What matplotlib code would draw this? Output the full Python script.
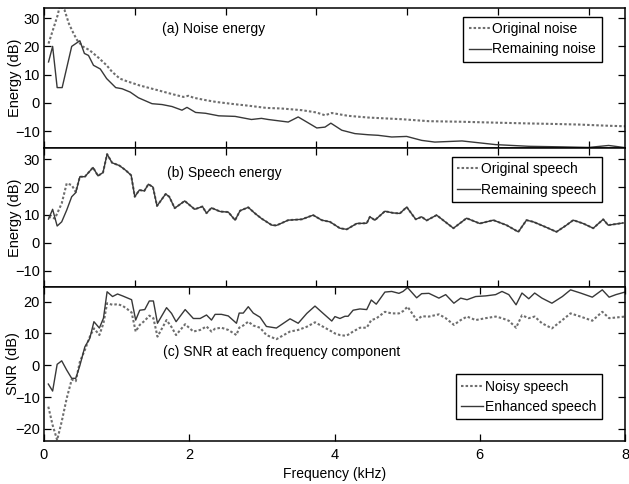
import numpy as np
import matplotlib
matplotlib.use("Agg")
import matplotlib.pyplot as plt

plt.rcParams['font.family'] = ['Liberation Sans', 'DejaVu Sans']
FS = 10
TICK_FS = 10.5

# (a) noise energy, x = FFT bin (0..128), y = dB
orig_noise_bins = [1, 2, 3, 3.5, 4.5, 5.5, 6.5, 7.3, 8.5, 10, 12, 13.8, 15, 16.7, 18, 21, 25, 28,
                   30.7, 31.8, 33, 35.8, 38, 42.1, 45, 49, 52.3, 56.8, 60, 61.9, 63.4, 67, 71.4,
                   75, 78.8, 84.8, 92, 99, 106.8, 113, 118, 124, 128]
orig_noise = [21, 26, 31, 34.5, 33, 28, 24.6, 22.2, 20, 18.7, 16, 13.3, 11, 8.6, 7.8, 6.2, 4.5, 3.2,
              2.1, 2.5, 1.8, 0.9, 0.3, -0.5, -1.0, -1.8, -2.0, -2.6, -3.4, -4.4, -3.6, -4.6, -5.2,
              -5.5, -5.8, -6.5, -6.7, -7.0, -7.3, -7.5, -7.7, -8.1, -8.3]

rem_noise_bins = [1, 1.9, 2.9, 4.0, 6.1, 7.9, 8.9, 9.8, 10.9, 12.4, 13.8, 15.8, 17.2, 19, 20.8,
                  23.8, 26, 28.2, 30.4, 31.5, 33.4, 35.6, 38.5, 42.1, 45.7, 47.9, 49.4, 53.8, 56,
                  57.9, 60.1, 61.9, 63.2, 65.6, 68.5, 71.4, 73.6, 76.6, 79.9, 83.2, 86.1, 92.1,
                  99.5, 106.8, 114.2, 120, 124.4, 127.7]
rem_noise = [14.5, 20, 5.4, 5.4, 20, 22, 17.5, 16.8, 13.3, 12, 8.6, 5.4, 5, 3.8, 1.8,
             -0.3, -0.6, -1.3, -2.6, -1.6, -3.4, -3.7, -4.6, -4.8, -5.9, -5.5, -5.9, -6.8, -5.0,
             -6.8, -8.9, -8.6, -7.2, -9.7, -10.9, -11.3, -11.5, -12.1, -11.9, -13.3, -13.9, -13.5,
             -14.8, -15.4, -15.6, -15.8, -15.1, -15.8]

# (b) speech energy
rem_speech_bins = [1, 1.9, 2.9, 3.9, 5, 6.1, 7, 7.9, 9, 10.8, 11.9, 13, 13.9, 15, 16.6, 18, 19.2,
                   20, 21, 22.1, 23, 24, 24.9, 26.8, 27.6, 28.8, 31, 33.2, 34.9, 35.8, 36.9, 38.8,
                   40.6, 42.1, 43.2, 45, 46.5, 47.9, 50.2, 51.2, 53.8, 56.8, 59.3, 61.2, 63, 65.2,
                   66.7, 68.9, 71.1, 71.8, 72.9, 75.1, 76.9, 78.4, 79.9, 81.9, 83.2, 84.3, 86.5,
                   90.2, 93.1, 96, 99, 101.9, 104.5, 106.3, 107.8, 110.7, 112.9, 115.1, 116.6,
                   118.8, 121, 123.2, 124.3, 127.6]
rem_speech = [8.5, 12, 6, 7.5, 11.7, 16.5, 18, 23.7, 23.7, 27, 24, 25.2, 31.8, 28.7, 27.7, 26, 24.2,
              16.5, 18.9, 18.6, 21, 20, 13.2, 17.5, 16.5, 12.4, 15, 12, 13, 10.6, 12.5, 11.2,
              11.0, 8.1, 11.5, 12.7, 10.5, 8.7, 6.3, 6.2, 8.1, 8.4, 9.9, 8.1, 7.5, 5.2,
              4.8, 6.9, 7.0, 9.3, 8.1, 11.3, 10.7, 10.5, 12.8, 8.4, 9.3, 8.0, 9.9,
              5.2, 8.8, 6.9, 8.1, 6.3, 3.9, 8.1, 7.5, 5.5, 3.9, 6.3, 8.1,
              6.9, 5.2, 8.4, 6.3, 7.1]
orig_speech_head_bins = [1, 2.4, 3.9, 5, 6.1, 7]
orig_speech_head = [9.3, 8.7, 14.1, 21.3, 20.7, 18.2]

# (c) SNR per frequency component
snr_bins_lo = [0.95, 1.9, 2.9, 3.9, 5, 6.1, 7, 7.9, 9, 10.1, 11, 12.2, 13.1, 13.9, 15.1, 16.2,
               17.3, 18.3, 19.3, 20.2, 21.1, 22.2, 23.2, 24.1, 25, 27, 28.1, 29.1, 31.1, 32.9,
               34.4, 35.8, 36.9, 37.7, 39.1, 40.6]
enh_lo = [-5.9, -8.1, 0.3, 1.4, -1.5, -4.1, -4.1, -0.1, 5.8, 8.5, 13.7, 11.7, 14.8, 23.1, 21.6, 22.4,
          21.8, 21.2, 20.6, 14.2, 17.3, 17.5, 20.2, 20.2, 13.2, 18.1, 16.3, 13.7, 17.5, 14.7,
          14.7, 15.8, 14.2, 16.0, 16.0, 15.5]
noisy_lo = [-13, -18.8, -23.5, -17.7, -10.4, -4.5, -5, 1.1, 4.8, 9.0, 11.6, 9.5, 13.2, 19.5, 19, 19.2,
            18.7, 17.7, 16.6, 10.6, 12.7, 14, 15.6, 14.8, 9, 14.2, 12.0, 9.5, 12.9, 10.6,
            11.1, 12.2, 10.6, 11.5, 11.8, 11.1]
snr_bins_hi = [42.4, 43.0, 43.9, 45.0, 46.1, 47.6, 49.0, 51.2, 54.2, 56.0, 57.9, 59.7, 61.5, 63.4,
               64.1, 65.2, 66.3, 67.0, 68.1, 69.6, 71.1, 72.1, 73.2, 75.1, 76.6, 78.2, 79.1, 80.1,
               82.1, 83.2, 84.8, 87, 88.5, 90.3, 91.8, 93.2, 95.1, 97.3, 99.5, 100.9, 102.4, 104,
               105.3, 106.8, 108.1, 109.7, 111.9, 114.2, 116, 118.2, 120.8, 123, 124.5, 126, 128]
enh_hi = [13.2, 16.4, 16.4, 18.4, 16.4, 15.1, 12.2, 11.7, 14.6, 13.2, 16.3, 18.6, 16.3, 13.9,
          15.3, 14.7, 15.4, 15.4, 17.3, 17.7, 17.5, 20.5, 19.2, 23.0, 23.2, 22.6, 23.2, 24.4,
          21.2, 22.5, 22.6, 21.1, 22.2, 19.5, 21.1, 20.6, 21.6, 21.8, 22.2, 23.2, 22.2, 19.0,
          22.7, 20.9, 22.7, 21.1, 19.5, 21.6, 23.7, 22.7, 21.4, 23.7, 21.4, 22.2, 23.0]
noisy_hi = [9.5, 11.8, 12.5, 13.7, 12.5, 11.8, 9.5, 8.2, 10.6, 11.1, 12.1, 13.5, 12.1, 10.6,
            10.0, 9.5, 9.3, 9.6, 10.6, 11.8, 11.8, 14.2, 14.7, 16.8, 16.3, 16.3, 17.0, 18.4,
            14.2, 15.4, 15.3, 16.0, 14.8, 12.7, 14.2, 15.3, 14.2, 14.8, 15.3, 14.8, 14.0, 11.8,
            15.7, 14.8, 15.3, 13.2, 11.6, 14.2, 16.3, 15.3, 14.0, 16.8, 14.8, 15.0, 15.3]

n_fft_half = 128
fs_half_khz = 8.0

solid_c = '#383838'
dot_c = '#6e6e6e'
dot_ls = (0, (1.2, 1.0))

fig = plt.figure(figsize=(6.29, 4.84), dpi=100)
L, W = 44 / 629, 581 / 629
ax1 = fig.add_axes([L, 1 - 148 / 484, W, 139.7 / 484])
ax2 = fig.add_axes([L, 1 - 287.3 / 484, W, 139.3 / 484])
ax3 = fig.add_axes([L, 1 - 440.7 / 484, W, 153.4 / 484])


def style(ax):
    ax.tick_params(direction='in', top=True, right=True, length=5, width=0.9,
                   labelsize=TICK_FS, pad=3)
    for s in ax.spines.values():
        s.set_linewidth(1.1)


def legend(ax, anchor):
    lg = ax.legend(loc='upper right', bbox_to_anchor=anchor, fontsize=FS, frameon=True,
                   fancybox=False, edgecolor='black', framealpha=1, handlelength=1.6,
                   handletextpad=0.1, labelspacing=0.45, borderpad=0.4, borderaxespad=0)
    lg.get_frame().set_linewidth(1.0)


# panel (a)
ax1.plot(orig_noise_bins, orig_noise, color=dot_c, ls=dot_ls, lw=1.5, label='Original noise')
ax1.plot(rem_noise_bins, rem_noise, color=solid_c, lw=1.0, label='Remaining noise')
ax1.set_xlim(0, n_fft_half)
ax1.set_ylim(-16, 33.5)
ax1.set_xticks(np.arange(0, 121, 20))
ax1.set_xticklabels([])
ax1.set_yticks([-10, 0, 10, 20, 30])
ax1.set_ylabel('Energy (dB)', fontsize=FS + 0.5)
ax1.yaxis.set_label_coords(-0.038, 0.5)
ax1.text(0.203, 0.855, '(a) Noise energy', transform=ax1.transAxes, fontsize=FS, va='center')
style(ax1)
legend(ax1, (0.96, 0.94))

# panel (b)
orig_speech_bins = orig_speech_head_bins + rem_speech_bins[7:]
orig_speech = orig_speech_head + rem_speech[7:]
ax2.plot(orig_speech_bins, orig_speech, color=dot_c, ls=dot_ls, lw=1.5, label='Original speech')
ax2.plot(rem_speech_bins, rem_speech, color=solid_c, lw=1.0, label='Remaining speech')
ax2.set_xlim(0, n_fft_half)
ax2.set_ylim(-16, 34)
ax2.set_xticks(np.arange(0, 121, 20))
ax2.set_xticklabels([])
ax2.set_yticks([-10, 0, 10, 20, 30])
ax2.set_ylabel('Energy (dB)', fontsize=FS + 0.5)
ax2.yaxis.set_label_coords(-0.038, 0.5)
ax2.text(0.211, 0.818, '(b) Speech energy', transform=ax2.transAxes, fontsize=FS, va='center')
style(ax2)
legend(ax2, (0.96, 0.9375))

# panel (c)
snr_khz = np.array(snr_bins_lo + snr_bins_hi) * fs_half_khz / n_fft_half
ax3.plot(snr_khz, noisy_lo + noisy_hi, color=dot_c, ls=dot_ls, lw=1.5, label='Noisy speech')
ax3.plot(snr_khz, enh_lo + enh_hi, color=solid_c, lw=1.0, label='Enhanced speech')
ax3.set_xlim(0, fs_half_khz)
ax3.set_ylim(-23.7, 24.5)
ax3.set_xticks([0, 2, 4, 6, 8])
ax3.set_yticks([-20, -10, 0, 10, 20])
ax3.set_ylabel('SNR (dB)', fontsize=FS + 0.5)
ax3.yaxis.set_label_coords(-0.042, 0.5)
ax3.set_xlabel('Frequency (kHz)', fontsize=FS, labelpad=4)
ax3.text(0.205, 0.58, '(c) SNR at each frequency component', transform=ax3.transAxes,
         fontsize=FS, va='center')
style(ax3)
ax3.tick_params(axis='x', pad=5)
legend(ax3, (0.96, 0.435))

fig.savefig('out.png', dpi=100)
